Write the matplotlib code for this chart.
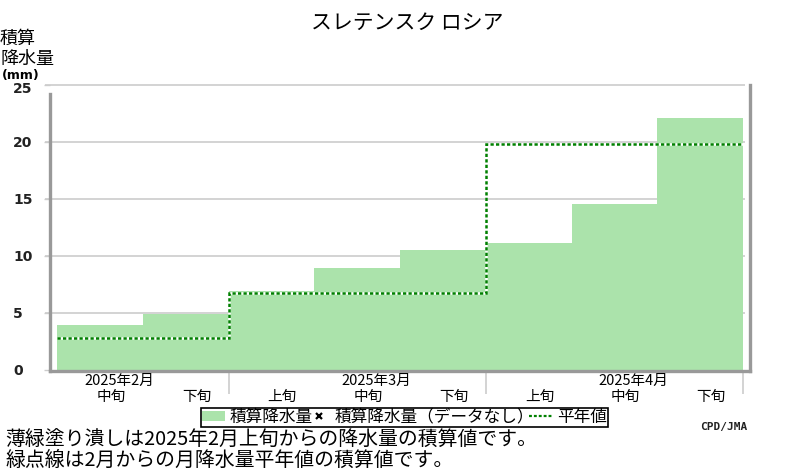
import matplotlib
matplotlib.use("Agg")
import matplotlib.pyplot as plt
from matplotlib.patches import Patch
from matplotlib.lines import Line2D
import matplotlib.transforms as mtransforms

plt.rcParams['font.family'] = ['Noto Sans CJK JP', 'DejaVu Sans']

# ---- data ----
title = "スレテンスク ロシア"
periods = ["中旬", "下旬", "上旬", "中旬", "下旬", "上旬", "中旬", "下旬"]
months = ["2025年2月", "2025年3月", "2025年4月"]
month_edges = [0, 2, 5, 8]          # period index boundaries of each month
month_label_idx = [0, 3, 6]         # period index of 中旬 in each month
cum_precip = [3.9, 4.9, 6.9, 8.9, 10.5, 11.1, 14.5, 22.1]
normal_cum = [2.8, 6.7, 19.8]
yticks = [0, 5, 10, 15, 20, 25]

W, H = 800, 470
fig = plt.figure(figsize=(W / 100, H / 100), dpi=100)

def fx(px):
    return px / W

def fy(py):
    return 1 - py / H

# axes geometry (pixels)
ax_l, ax_r, ax_t, ax_b = 50, 750, 84.5, 371
ax = fig.add_axes([fx(ax_l), fy(ax_b), (ax_r - ax_l) / W, (ax_b - ax_t) / H])

pxu = (743 - 57) / 8.0     # pixels per period
x0 = 57
ppm = (369.5 - 84.5) / 25.0  # pixels per mm
ax.set_xlim((ax_l - x0) / pxu, (ax_r - x0) / pxu)
ax.set_ylim(-(ax_b - 369.5) / ppm, 25)

# gridlines
grid_x_end = (745 - x0) / pxu
ax.hlines([v for v in yticks if v > 0], (45 - x0) / pxu, grid_x_end,
          colors='#cccccc', linewidth=1.2, zorder=0, clip_on=False)

# bars
xs = list(range(len(cum_precip)))
ax.bar(xs, cum_precip, width=1.0, align='edge', color='#abe3ab',
       edgecolor='none', zorder=1)

# normal step line (white underlay + green dotted)
ax.stairs(normal_cum, month_edges, baseline=None, color='white',
          linewidth=1.8, zorder=2)
ax.stairs(normal_cum, month_edges, baseline=None, color='#008000',
          linewidth=1.8, linestyle=(0, (1.3, 0.9)), zorder=3)

# spines
ax.spines['top'].set_visible(False)
for s in ['left', 'bottom', 'right']:
    ax.spines[s].set_color('#999999')
    ax.spines[s].set_linewidth(2.4)
ax.spines['left'].set_bounds(ax.get_ylim()[0], (369.5 - 94) / ppm)
ax.spines['right'].set_bounds(ax.get_ylim()[0], (369.5 - 85) / ppm)

# ticks
ax.set_xticks([])
ax.set_yticks(yticks)
ax.set_yticklabels([])
ax.tick_params(axis='y', length=4, color='#cccccc', width=1)

# y tick labels
trans_y = mtransforms.blended_transform_factory(fig.transFigure, ax.transData)
for v in yticks:
    off = -3.5 / ppm if v == 25 else 0
    ax.text(fx(13), v + off - 0.12, str(v), transform=trans_y, ha='left', va='center',
            fontsize=10, fontweight='bold', family='DejaVu Sans', color='#222222')

# x labels
for i, p in enumerate(periods):
    ax.text(i + 0.5 + 11 / pxu, -(397 - 369.5) / ppm, p, ha='center', va='center',
            fontsize=10.5, clip_on=False)
for m, idx in zip(months, month_label_idx):
    ax.text(idx + 0.5 + 19 / pxu, -(380.5 - 369.5) / ppm, m, ha='center', va='center',
            fontsize=10.5, clip_on=False)
ax.vlines(month_edges[1:], ax.get_ylim()[0], -(394 - 369.5) / ppm,
          colors='#cccccc', linewidth=1.2, clip_on=False)

# title & y-label
fig.text(fx(407), fy(23), title, ha='center', va='center', fontsize=15)
fig.text(fx(0), fy(39), "積算", ha='left', va='center', fontsize=13)
fig.text(fx(0), fy(59), "降水量", ha='left', va='center', fontsize=13)
fig.text(fx(2), fy(75), "(mm)", ha='left', va='center', fontsize=9,
         fontweight='bold', family='DejaVu Sans')

# legend
handles = [
    Patch(facecolor='#abe3ab', edgecolor='none'),
    Line2D([], [], marker='x', linestyle='none', color='black',
           markersize=4, markeredgewidth=1.6),
    Line2D([], [], color='#008000', linewidth=1.6, linestyle=(0, (1.3, 0.9))),
]
labels = ["積算降水量", "積算降水量（データなし）", "平年値"]
leg = ax.legend(handles, labels, loc='upper left',
                bbox_to_anchor=(fx(201), fy(408)), bbox_transform=fig.transFigure,
                ncol=3, fontsize=12, frameon=True, fancybox=False, shadow=False,
                handlelength=1.4, handleheight=0.6, handletextpad=0.25,
                columnspacing=-0.3, borderpad=0.05, borderaxespad=0)
leg.get_frame().set_edgecolor('black')
leg.get_frame().set_linewidth(1.2)
leg.get_frame().set_facecolor('white')
leg.get_frame().set_alpha(1)

# credit and notes
fig.text(fx(724), fy(427), "CPD/JMA", ha='center', va='center', fontsize=8,
         fontweight='bold', family='DejaVu Sans Mono', color='#222222')
fig.text(fx(5), fy(440), "薄緑塗り潰しは2025年2月上旬からの降水量の積算値です。",
         ha='left', va='center', fontsize=14.3)
fig.text(fx(5), fy(460), "緑点線は2月からの月降水量平年値の積算値です。",
         ha='left', va='center', fontsize=14.3)

fig.savefig("out.png", dpi=100)
